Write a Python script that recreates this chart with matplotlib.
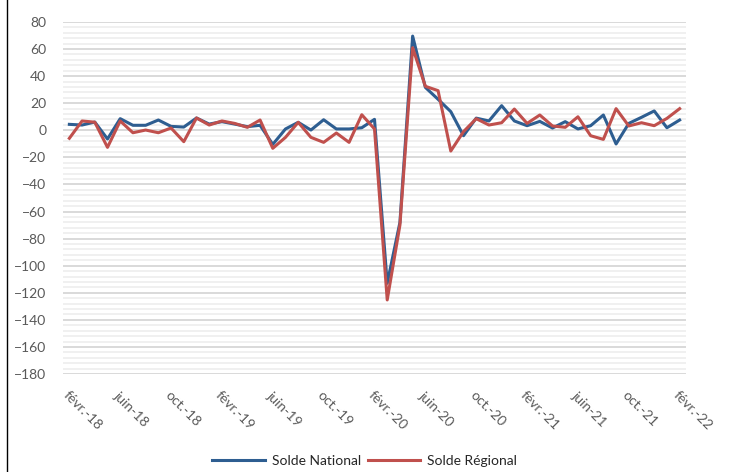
import numpy as np
import matplotlib.pyplot as plt
from matplotlib.lines import Line2D

# monthly balances, févr.-18 .. févr.-22
national = [4.4, 3.9, 6.1, -6.4, 8.6, 3.7, 3.7, 7.6, 2.9, 2.4,
            9.1, 4.6, 6.4, 4.6, 2.7, 3.7, -10.4, 1.0, 5.9, 0.2,
            7.8, 1.0, 1.0, 1.9, 8.1, -113.0, -68.0, 69.6, 31.7, 22.9,
            13.8, -4.0, 9.0, 6.9, 18.2, 6.9, 3.4, 6.6, 1.7, 6.4,
            1.0, 3.4, 11.3, -10.1, 5.1, 9.6, 14.3, 1.9, 7.6]
regional = [-5.9, 6.9, 6.0, -12.6, 6.9, -1.8, 0.2, -1.8, 1.7, -8.4,
            9.1, 3.9, 6.9, 5.1, 2.2, 7.6, -13.3, -5.2, 5.9, -5.2,
            -8.9, -2.0, -8.9, 11.5, 1.0, -125.3, -70.0, 61.0, 32.5, 29.3,
            -15.3, -1.0, 8.6, 3.9, 5.6, 15.7, 5.1, 11.3, 3.2, 2.2,
            10.0, -4.0, -6.7, 16.0, 3.2, 5.6, 3.4, 8.8, 16.0]
tick_labels = ['févr.-18', 'juin-18', 'oct.-18', 'févr.-19', 'juin-19', 'oct.-19',
               'févr.-20', 'juin-20', 'oct.-20', 'févr.-21', 'juin-21', 'oct.-21',
               'févr.-22']

plt.rcParams['font.family'] = ['Lato', 'DejaVu Sans']
grey = '#595959'

fig = plt.figure(figsize=(7.29, 4.72), dpi=100)
ax = fig.add_axes([63 / 729, 1 - 374 / 472, 623 / 729, 352 / 472])

x = np.arange(len(national))
ax.plot(x, national, color='#2E5E91', lw=2.2, label='Solde National', zorder=3)
ax.plot(x, regional, color='#C0504D', lw=2.2, label='Solde Régional', zorder=4)

ax.set_xlim(-0.5, len(national) - 0.5)
ax.set_ylim(-180, 80)
ax.set_yticks(np.arange(-180, 81, 20))
ax.set_yticks(np.arange(-180, 81, 4), minor=True)
ax.grid(which='major', axis='y', color='#d9d9d9', lw=1.4, zorder=0)
ax.grid(which='minor', axis='y', color='#eeeeee', lw=1.2, zorder=0)
ax.set_xticks(x[::4])
ax.set_xticklabels(tick_labels, rotation=-45, ha='left', va='top',
                   rotation_mode='anchor')
ax.tick_params(axis='both', which='both', length=0, colors=grey, labelsize=10)
ax.tick_params(axis='x', pad=11)
ax.tick_params(axis='y', pad=12)
for s in ax.spines.values():
    s.set_visible(False)

handles = [Line2D([], [], color='#2E5E91', lw=2.2),
           Line2D([], [], color='#C0504D', lw=2.2)]
leg = fig.legend(handles, ['Solde National', 'Solde Régional'], loc='center',
                 bbox_to_anchor=(0.5, 1 - 461 / 472), ncol=2, frameon=False,
                 fontsize=10, handlelength=3.8, columnspacing=0.5,
                 handletextpad=0.5)
for t in leg.get_texts():
    t.set_color('#262626')

# left edge of chart frame
fig.add_artist(Line2D([7 / 729, 7 / 729], [0, 1], color='black', lw=1))

fig.savefig('out.png', dpi=100)
